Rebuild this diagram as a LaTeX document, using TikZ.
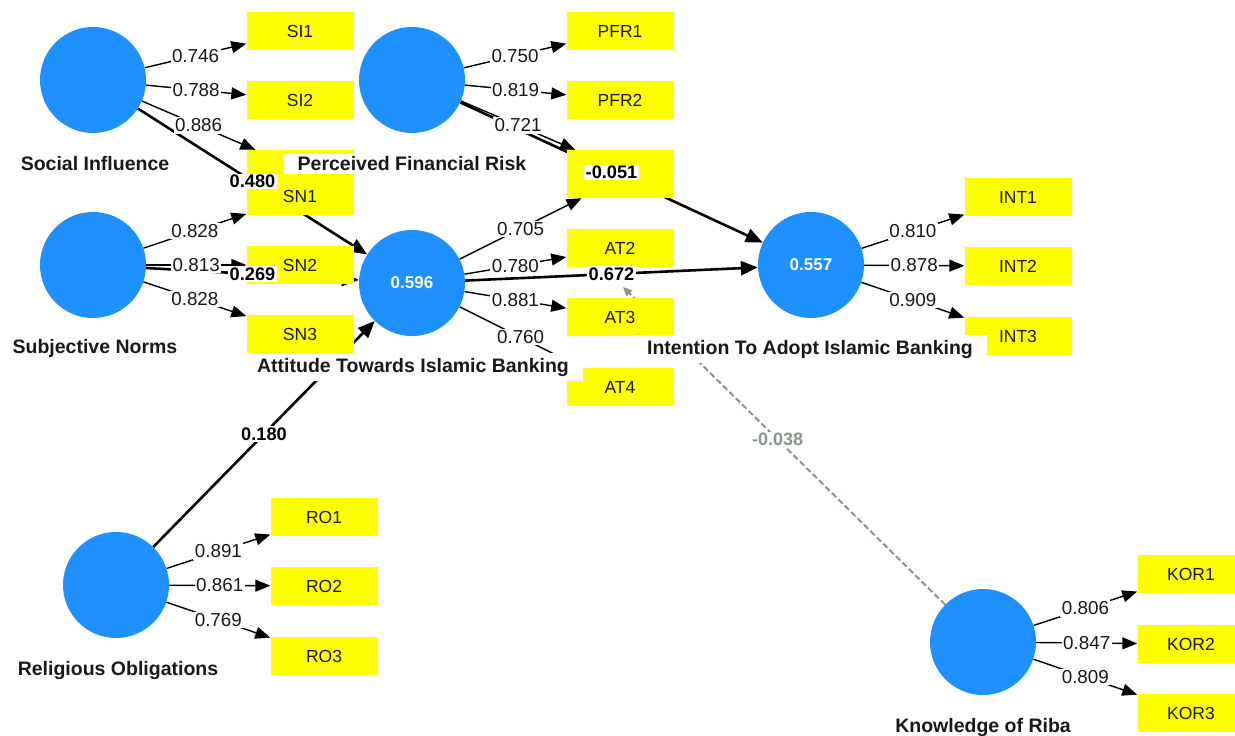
\documentclass[tikz,border=0pt]{standalone}
\usepackage{fontspec}
\setmainfont{Liberation Sans}
\usetikzlibrary{arrows.meta}
\pgfdeclarelayer{bg}
\pgfsetlayers{bg,main}
\definecolor{lvblue}{RGB}{30,144,255}
\definecolor{mvyellow}{RGB}{255,255,0}
\definecolor{modgray}{RGB}{138,150,138}
\tikzset{
  lv/.style={circle, fill=lvblue, minimum size=106pt, inner sep=0pt, text=white, font=\bfseries\fontsize{17}{20}\selectfont},
  mv/.style={rectangle, fill=mvyellow, minimum width=107pt, minimum height=38pt, inner sep=0pt, text=black!90, font=\fontsize{17.5}{20}\selectfont},
  lvname/.style={fill=white, inner xsep=14pt, inner ysep=5pt, text=black!90, font=\bfseries\fontsize{19.5}{22}\selectfont},
  load/.style={line width=1.4pt, black, -{Triangle[length=15pt,width=12pt]}},
  loadval/.style={fill=white, inner sep=1.5pt, text=black!90, font=\fontsize{18.8}{21}\selectfont},
  coef/.style={line width=2.6pt, black, -{Triangle[length=17pt,width=14pt]}},
  coefval/.style={fill=white, inner sep=1.5pt, text=black, font=\bfseries\fontsize{18.2}{20}\selectfont},
  modline/.style={line width=2pt, modgray, dash pattern=on 6pt off 3pt, -{Triangle[length=9pt,width=8pt]}},
  modval/.style={fill=white, inner sep=1.5pt, text=modgray, font=\bfseries\fontsize{18}{20}\selectfont},
}
\begin{document}
\begin{tikzpicture}[x=1pt, y=-1pt]
\useasboundingbox (0,0) rectangle (1235,736);
% constructs
\node[lv] (si) at (93,80) {};
\node[lv] (pfr) at (412,80) {};
\node[lv] (sn) at (93,265) {};
\node[lv] (at) at (412,283) {0.596};
\node[lv] (int) at (811,265) {0.557};
\node[lv] (ro) at (116,585) {};
\node[lv] (kor) at (983,642) {};
% indicators
\node[mv] (si1) at (300,31) {SI1};
\node[mv] (si2) at (300,100) {SI2};
\node[mv] (si3) at (300,169) {};
\node[mv] (sn1) at (300,196) {SN1};
\node[mv] (sn2) at (300,265) {SN2};
\node[mv] (sn3) at (300,334) {SN3};
\node[mv] (pfr1) at (620,31) {PFR1};
\node[mv] (pfr2) at (620,100) {PFR2};
\node[mv] (pfr3) at (620,169) {};
\node[mv] (at1) at (620,179) {};
\node[mv] (at2) at (620,248) {AT2};
\node[mv] (at3) at (620,317) {AT3};
\node[mv] (at4) at (620,387) {AT4};
\node[mv] (int1) at (1018,197) {INT1};
\node[mv] (int2) at (1018,266) {INT2};
\node[mv] (int3) at (1018,336) {INT3};
\node[mv] (ro1) at (324,517) {RO1};
\node[mv] (ro2) at (324,586) {RO2};
\node[mv] (ro3) at (324,656) {RO3};
\node[mv] (kor1) at (1191,574) {KOR1};
\node[mv] (kor2) at (1191,644) {KOR2};
\node[mv] (kor3) at (1191,713) {KOR3};
\coordinate (m) at (623,287);

% outer loadings
\foreach \a/\b/\v in {si/si1/0.746, si/si2/0.788, si/si3/0.886, pfr/pfr1/0.750, pfr/pfr2/0.819, pfr/pfr3/0.721,
  sn/sn1/0.828, sn/sn2/0.813, sn/sn3/0.828, at/at1/0.705, at/at2/0.780, at/at3/0.881, at/at4/0.760,
  int/int1/0.810, int/int2/0.878, int/int3/0.909, ro/ro1/0.891, ro/ro2/0.861, ro/ro3/0.769,
  kor/kor1/0.806, kor/kor2/0.847, kor/kor3/0.809} {
  \begin{pgfonlayer}{bg}
    \draw[load] (\a) -- (\b);
  \end{pgfonlayer}
  \path (\a) -- node[loadval] {\v} (\b);
}

% construct names
\node[lvname] (si-name) at (95,164) {Social Influence};
\node[lvname, inner ysep=3pt] (pfr-name) at (412,164) {Perceived Financial Risk};
\node[lvname] (sn-name) at (95,348) {Subjective Norms};
\node[lvname] (at-name) at (413,367) {Attitude Towards Islamic Banking};
\node[lvname] (int-name) at (810,349) {Intention To Adopt Islamic Banking};
\node[lvname] (ro-name) at (118,670) {Religious Obligations};
\node[lvname] (kor-name) at (983,727) {Knowledge of Riba};

% path coefficients
\foreach \a/\b/\v in {si/at/0.480, sn/at/0.269, ro/at/0.180, pfr/int/-0.051, at/int/0.672} {
  \begin{pgfonlayer}{bg}
    \draw[coef] (\a) -- (\b);
  \end{pgfonlayer}
  \path (\a) -- node[coefval] {\v} (\b);
}

% moderating effect
\begin{pgfonlayer}{bg}
  \draw[modline] (kor) -- (m);
\end{pgfonlayer}
\path (kor) -- node[modval, pos=0.52] {-0.038} (m);
\end{tikzpicture}
\end{document}
